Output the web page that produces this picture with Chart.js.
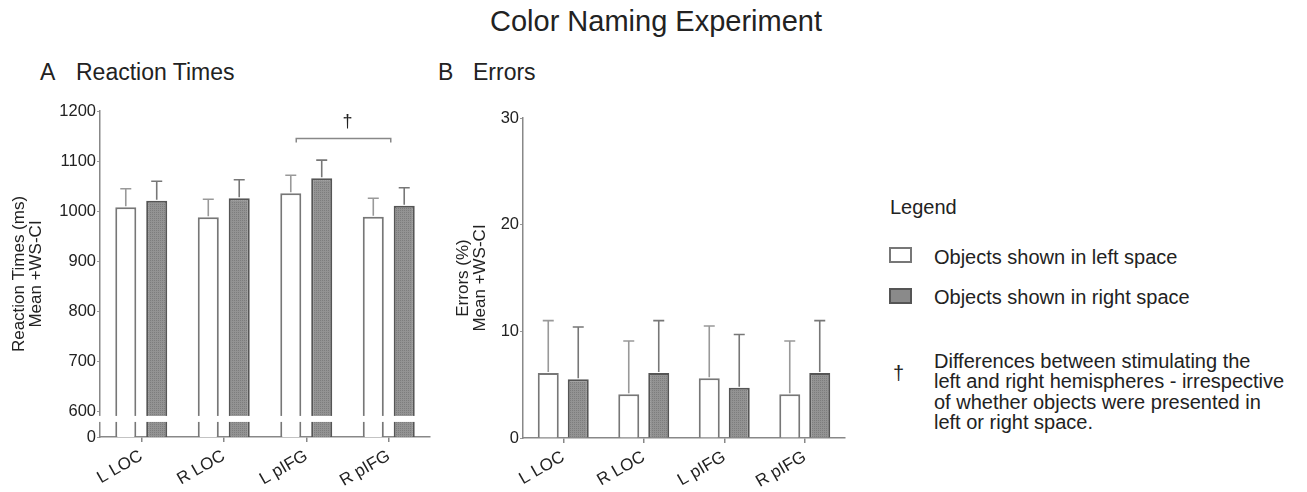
<!DOCTYPE html>
<html><head><meta charset="utf-8">
<script src="https://cdn.jsdelivr.net/npm/chart.js@4/dist/chart.umd.min.js"></script>
<style>
body{margin:0;width:1307px;height:492px;background:#fff;font-family:"Liberation Sans",Arial,sans-serif;color:#222;position:relative;overflow:hidden}
.t{position:absolute;white-space:nowrap;line-height:1}
canvas{position:absolute}
.box{position:absolute;box-sizing:border-box;border:2px solid #666}
</style></head><body>
<div class="t" style="left:0;width:1312px;text-align:center;top:7px;font-size:29px">Color Naming Experiment</div>
<div class="t" style="left:40px;top:61px;font-size:23px">A</div>
<div class="t" style="left:76px;top:61px;font-size:23px">Reaction Times</div>
<div class="t" style="left:438px;top:61px;font-size:23px">B</div>
<div class="t" style="left:473px;top:61px;font-size:23px">Errors</div>

<canvas id="cA" width="440" height="402" style="left:0;top:90px"></canvas>
<canvas id="cB" width="420" height="402" style="left:440px;top:90px"></canvas>

<div class="t" style="left:890px;top:197px;font-size:20px">Legend</div>
<div class="box" style="left:889px;top:247px;width:23px;height:16px;background:#fff;border-color:#777"></div>
<div class="t" id="leg1" style="left:934px;top:247px;font-size:20px"></div>
<div class="box" style="left:889px;top:288px;width:23px;height:16px;background:#8a8a8a;border-color:#555"></div>
<div class="t" id="leg2" style="left:934px;top:287px;font-size:20px"></div>
<div class="t" style="left:893px;top:363px;font-size:20px">†</div>
<div class="t" style="left:934px;top:351px;font-size:20px;line-height:20.3px">Differences between stimulating the<br>left and right hemispheres - irrespective<br>of whether objects were presented in<br>left or right space.</div>

<script>
const categories = ['L LOC', 'R LOC', 'L pIFG', 'R pIFG'];
const seriesNames = ['Objects shown in left space', 'Objects shown in right space'];

// Panel A: reaction times (ms), mean and within-subject CI
const rtLeft = [1008, 988, 1036, 989];
const rtLeftCI = [37, 36, 36, 37];
const rtRight = [1021, 1026, 1066, 1011];
const rtRightCI = [39, 37, 36, 36];
const rtTicks = [600, 700, 800, 900, 1000, 1100, 1200];
const rtBottomLabel = '0';

// Panel B: errors (%), mean and within-subject CI
const errLeft = [6.1, 4.1, 5.6, 4.1];
const errLeftCI = [4.9, 5.0, 4.9, 5.0];
const errRight = [5.5, 6.1, 4.7, 6.1];
const errRightCI = [4.9, 4.9, 5.0, 4.9];
const errTicks = [0, 10, 20, 30];

document.getElementById('leg1').textContent = seriesNames[0];
document.getElementById('leg2').textContent = seriesNames[1];

const FAM = '"Liberation Sans", Arial, sans-serif';

function hatch() {
  const c = document.createElement('canvas'); c.width = c.height = 4;
  const g = c.getContext('2d');
  g.fillStyle = '#939393'; g.fillRect(0, 0, 4, 4);
  g.fillStyle = '#7d7d7d';
  g.fillRect(0, 0, 1, 1); g.fillRect(2, 2, 1, 1); g.fillRect(2, 0, 1, 1); g.fillRect(0, 2, 1, 1);
  return g.createPattern(c, 'repeat');
}
const pattern = hatch();

const errorBars = {
  id: 'errorBars',
  afterDatasetsDraw(chart) {
    const ctx = chart.ctx, y = chart.scales.y;
    chart.data.datasets.forEach((ds, i) => {
      const meta = chart.getDatasetMeta(i);
      meta.data.forEach((bar, j) => {
        const top = y.getPixelForValue(ds.data[j] + ds.ci[j]);
        ctx.save();
        ctx.strokeStyle = ds.errColor; ctx.lineWidth = 1.6;
        ctx.beginPath();
        ctx.moveTo(bar.x, bar.y - 1); ctx.lineTo(bar.x, top);
        ctx.moveTo(bar.x - 5.5, top); ctx.lineTo(bar.x + 5.5, top);
        ctx.stroke(); ctx.restore();
      });
    });
  }
};

const breakPlugin = {
  id: 'axisBreak',
  afterDatasetsDraw(chart) {
    const y = chart.scales.y, ca = chart.chartArea, ctx = chart.ctx;
    const p = y.getPixelForValue(rtTicks[0]);
    ctx.save(); ctx.fillStyle = '#fff';
    ctx.fillRect(ca.left - 3, p + 4, ca.right - ca.left + 6, 6);
    ctx.restore();
  }
};

const sigPlugin = {
  id: 'sig',
  afterDatasetsDraw(chart) {
    const x = chart.scales.x, y = chart.scales.y, ctx = chart.ctx;
    const x1 = x.getPixelForValue(2) - 10, x2 = x.getPixelForValue(3) + 2;
    const yy = y.getPixelForValue(1145);
    ctx.save();
    ctx.strokeStyle = '#888'; ctx.lineWidth = 1.5;
    ctx.beginPath();
    ctx.moveTo(x1, yy + 4); ctx.lineTo(x1, yy); ctx.lineTo(x2, yy); ctx.lineTo(x2, yy + 4);
    ctx.stroke();
    ctx.fillStyle = '#222'; ctx.font = '18px ' + FAM; ctx.textAlign = 'center'; ctx.textBaseline = 'middle';
    ctx.fillText('†', (x.getPixelForValue(2) + x.getPixelForValue(3)) / 2, y.getPixelForValue(1178));
    ctx.restore();
  }
};

function makeDatasets(l, lci, r, rci, catPct, barPct) {
  return [
    { label: seriesNames[0], data: l, ci: lci, backgroundColor: '#fff', borderColor: '#777', borderWidth: 2,
      errColor: '#999', categoryPercentage: catPct, barPercentage: barPct },
    { label: seriesNames[1], data: r, ci: rci, backgroundColor: pattern, borderColor: '#555', borderWidth: 2,
      errColor: '#777', categoryPercentage: catPct, barPercentage: barPct }
  ];
}

function xScale(h) {
  return {
    grid: { display: true, drawOnChartArea: false, drawTicks: true, tickLength: 5, color: '#888', offset: false, lineWidth: 1.5 },
    border: { color: '#888', width: 1.5 },
    ticks: { font: { size: 17, family: FAM }, color: '#222', minRotation: 30, maxRotation: 30, padding: 4 },
    afterFit(s) { s.height = h; }
  };
}

function yScale(min, max, tickVals, labelFn, title, tPad, w) {
  return {
    min: min, max: max,
    afterBuildTicks(s) { s.ticks = tickVals.map(v => ({ value: v })); },
    ticks: { callback: labelFn, font: { size: 16.5, family: FAM }, color: '#222', padding: 1 },
    grid: { display: true, drawOnChartArea: false, drawTicks: true, tickLength: 3, color: '#999', lineWidth: 1 },
    border: { color: '#888', width: 1.5 },
    title: { display: true, text: title, color: '#222', font: { size: 17, family: FAM, lineHeight: 1.05 }, padding: { top: tPad, bottom: 0 } },
    afterFit(s) { s.width = w; }
  };
}

const common = {
  responsive: false, animation: false,
  plugins: { legend: { display: false }, tooltip: { enabled: false } }
};

new Chart(document.getElementById('cA'), {
  type: 'bar',
  data: { labels: categories, datasets: makeDatasets(rtLeft, rtLeftCI, rtRight, rtRightCI, 0.75, 0.68) },
  options: Object.assign({}, common, {
    layout: { padding: { top: 21, right: 10, left: 0, bottom: 0 } },
    scales: {
      x: xScale(55),
      y: yScale(550, 1200, [550].concat(rtTicks), (v) => v === 550 ? rtBottomLabel : String(v),
        ['Reaction Times (ms)', 'Mean +WS-CI'], 10, 100)
    }
  }),
  plugins: [errorBars, breakPlugin, sigPlugin]
});

new Chart(document.getElementById('cB'), {
  type: 'bar',
  data: { labels: categories, datasets: makeDatasets(errLeft, errLeftCI, errRight, errRightCI, 0.745, 0.7) },
  options: Object.assign({}, common, {
    layout: { padding: { top: 28, right: 15, left: 0, bottom: 0 } },
    scales: {
      x: xScale(54),
      y: yScale(0, 30, errTicks, (v) => String(v), ['Errors (%)', 'Mean +WS-CI'], 14, 83)
    }
  }),
  plugins: [errorBars]
});
</script>
</body></html>
